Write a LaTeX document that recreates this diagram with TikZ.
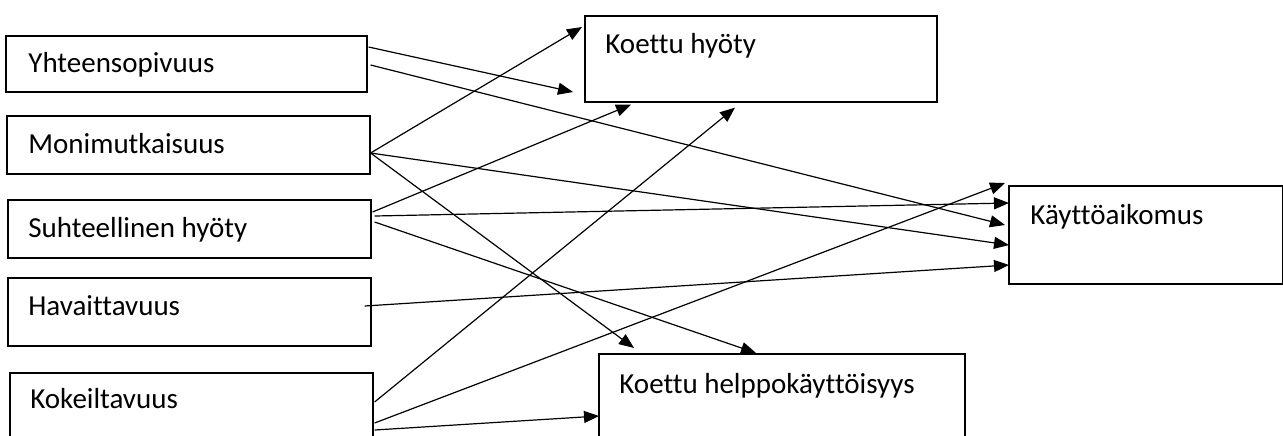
\documentclass[tikz,border=0pt]{standalone}
\usepackage{fontspec}
\setmainfont[Ligatures={NoCommon}]{Carlito}
\usetikzlibrary{arrows.meta,calc}
\tikzset{
  boxnode/.style={draw=black, line width=0.8pt, rectangle, inner sep=0pt, anchor=north west},
  txt/.style={inner sep=0pt, anchor=base west, font=\fontsize{14.5pt}{17pt}\selectfont},
  conn/.style={draw=black, line width=0.6pt, -{Triangle[length=7.5pt,width=6pt]}}
}
\begin{document}
\begin{tikzpicture}[x=0.5pt,y=-0.5pt]
\clip (0,0) rectangle (1283,435);
\fill[white] (0,0) rectangle (1283,435);
% left boxes
\node[boxnode, minimum width=180.5pt, minimum height=28pt] (Y) at (5,35) {};
\node[boxnode, minimum width=181.5pt, minimum height=29pt] (M) at (6,115) {};
\node[boxnode, minimum width=181.5pt, minimum height=29pt] (S) at (7,199) {};
\node[boxnode, minimum width=181.5pt, minimum height=34pt] (H) at (7,277) {};
\node[boxnode, minimum width=181.5pt, minimum height=50pt] (K) at (9,372) {};
% right boxes
\node[boxnode, minimum width=176pt, minimum height=43pt] (KH) at (584,15) {};
\node[boxnode, minimum width=137pt, minimum height=49pt] (KA) at (1008,185) {};
\node[boxnode, minimum width=183pt, minimum height=50pt] (HE) at (598,353) {};
% texts
\node[txt] (Yt) at (28,72) {Yhteensopivuus};
\node[txt] (Mt) at (28,153) {Monimutkaisuus};
\node[txt] (St) at (28,237) {Suhteellinen hyöty};
\node[txt] (Ht) at (28,315) {Havaittavuus};
\node[txt] (Kt) at (30,408) {Kokeiltavuus};
\node[txt] (KHt) at (605,53) {Koettu hyöty};
\node[txt] (KAt) at (1030,224) {Käyttöaikomus};
\node[txt] (HEt) at (619,393) {Koettu helppokäyttöisyys};
% connectors
\draw[conn] ($(Y.north east)+(1,12)$) -- ($(KH.north west)+(-11,77)$);
\draw[conn] ($(Y.north east)+(3,30)$) -- ($(KA.north west)+(-3,40)$);
\draw[conn] ($(M.north east)+(0,38)$) -- ($(KH.north west)+(-2,12)$);
\draw[conn] ($(M.north east)+(0,38)$) -- ($(KA.north west)+(1,60)$);
\draw[conn] ($(M.north east)+(0,38)$) -- ($(HE.north west)+(36,-5)$);
\draw[conn] ($(S.north east)+(1,13)$) -- ($(KH.south west)+(47,2)$);
\draw[conn] ($(S.north east)+(3,17)$) -- ($(KA.north west)+(1,18)$);
\draw[conn] ($(S.north east)+(3,23)$) -- ($(HE.north west)+(158,0)$);
\draw[conn] ($(H.north east)+(-7,29)$) -- ($(KA.north west)+(1,80)$);
\draw[conn] ($(K.north east)+(1,30)$) -- ($(KH.south west)+(151,5)$);
\draw[conn] ($(K.north east)+(1,51)$) -- ($(KA.north west)+(-3,-2)$);
\draw[conn] ($(K.north east)+(1,58)$) -- ($(HE.north west)+(1,63)$);
\end{tikzpicture}
\end{document}
